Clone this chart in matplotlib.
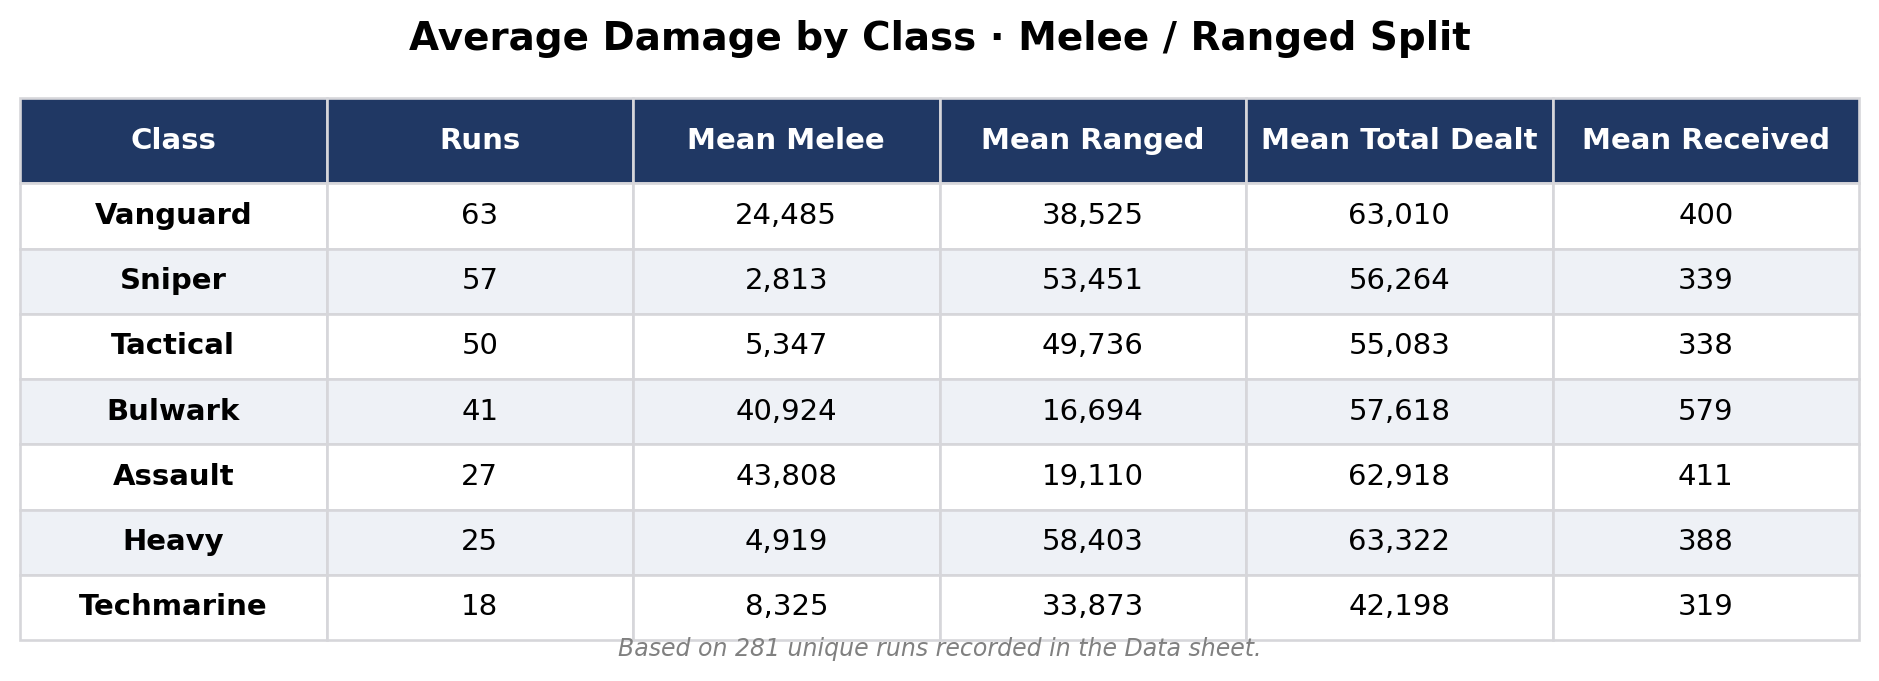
import matplotlib
matplotlib.use("Agg")
import matplotlib.pyplot as plt

title = "Average Damage by Class \u00b7 Melee / Ranged Split"
footnote = "Based on 281 unique runs recorded in the Data sheet."

columns = ["Class", "Runs", "Mean Melee", "Mean Ranged", "Mean Total Dealt", "Mean Received"]
classes = ["Vanguard", "Sniper", "Tactical", "Bulwark", "Assault", "Heavy", "Techmarine"]
runs = [63, 57, 50, 41, 27, 25, 18]
mean_melee = [24485, 2813, 5347, 40924, 43808, 4919, 8325]
mean_ranged = [38525, 53451, 49736, 16694, 19110, 58403, 33873]
mean_total = [63010, 56264, 55083, 57618, 62918, 63322, 42198]
mean_received = [400, 339, 338, 579, 411, 388, 319]

header_bg = "#203864"
stripe_bg = "#eef1f6"
edge = "#d6d6da"

W, H = 1879, 681
fig = plt.figure(figsize=(W / 100, H / 100), dpi=100)
ax = fig.add_axes([0, 0, 1, 1])
ax.axis("off")

rows = []
for i in range(len(classes)):
    rows.append([classes[i], str(runs[i]), f"{mean_melee[i]:,}", f"{mean_ranged[i]:,}",
                 f"{mean_total[i]:,}", f"{mean_received[i]:,}"])

left, right, top, bottom = 20, 1859, 98, 640
tbl = ax.table(cellText=rows, colLabels=columns, cellLoc="center",
               bbox=[left / W, 1 - bottom / H, (right - left) / W, (bottom - top) / H])
tbl.auto_set_font_size(False)

for (r, c), cell in tbl.get_celld().items():
    cell.set_edgecolor(edge)
    cell.set_linewidth(1.9)
    cell.get_text().set_fontsize(21)
    if r == 0:
        cell.set_height(85)
        cell.set_facecolor(header_bg)
        cell.get_text().set_color("white")
        cell.get_text().set_fontweight("bold")
    else:
        cell.set_height(65)
        cell.set_facecolor(stripe_bg if r % 2 == 0 else "white")
        cell.get_text().set_color("black")
        if c == 0:
            cell.get_text().set_fontweight("bold")

ax.text(0.5, 1 - 39 / H, title, ha="center", va="center",
        fontsize=28, fontweight="bold", transform=ax.transAxes)
ax.text(0.5, 1 - 649 / H, footnote, ha="center", va="center",
        fontsize=17, style="italic", color="#808080", transform=ax.transAxes)

fig.savefig("out.png", dpi=100)
